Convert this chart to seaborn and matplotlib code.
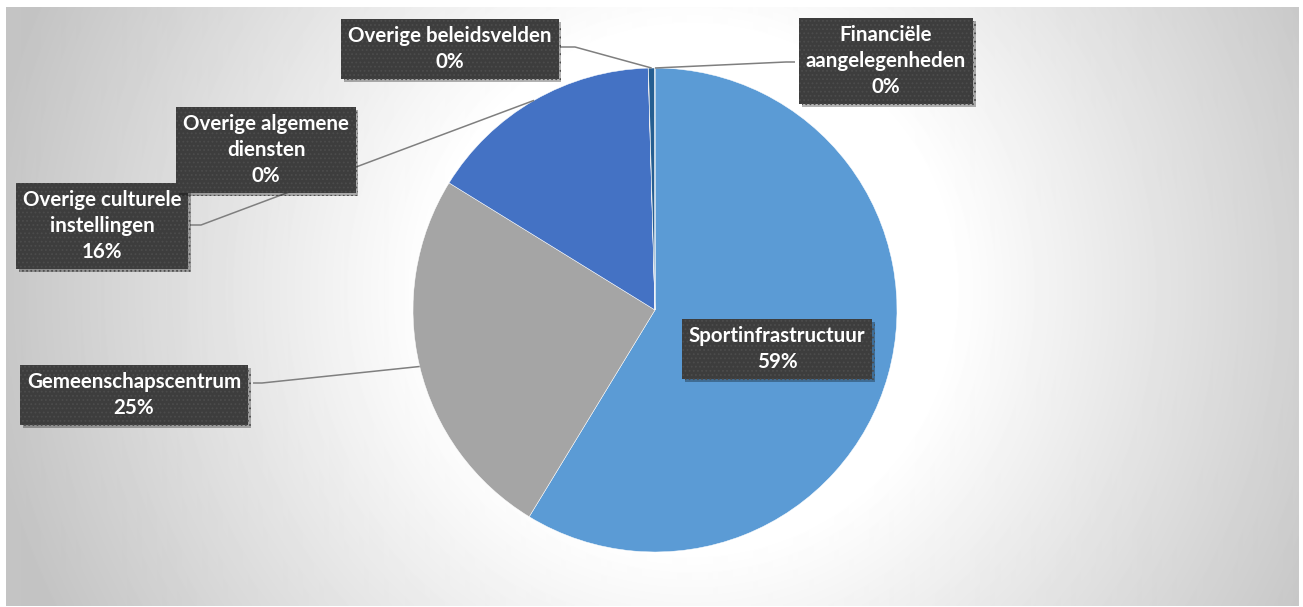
import numpy as np
import matplotlib
matplotlib.use("Agg")
import matplotlib.pyplot as plt
import seaborn as sns
from matplotlib import patheffects as pe

# ---------------- data ----------------
categories = [
    "Sportinfrastructuur",
    "Gemeenschapscentrum",
    "Overige culturele instellingen",
    "Overige algemene diensten",
    "Overige beleidsvelden",
    "Financiële aangelegenheden",
]
shares = [58.7, 25.1, 15.75, 0.02, 0.42, 0.01]
label_texts = [
    "Sportinfrastructuur",
    "Gemeenschapscentrum",
    "Overige culturele\ninstellingen",
    "Overige algemene\ndiensten",
    "Overige beleidsvelden",
    "Financiële\naangelegenheden",
]
colors = ["#5B9BD5", "#A5A5A5", "#4472C4", "#ED7D31", "#255E91", "#264478"]

# ---------------- style ----------------
sns.set_theme(style="white")
plt.rcParams["font.family"] = ["Lato", "DejaVu Sans"]
plt.rcParams["hatch.linewidth"] = 0.8

W, H = 1303, 607
fig = plt.figure(figsize=(W / 100, H / 100), dpi=100)
fig.patch.set_facecolor("white")

# radial gradient background (chart area)
bx0, by0, bx1, by1 = 6, 7, 1298, 606
bg = fig.add_axes([bx0 / W, 1 - by1 / H, (bx1 - bx0) / W, (by1 - by0) / H])
yy, xx = np.mgrid[by0:by1, bx0:bx1]
rr = np.hypot(xx - 690, (yy - 290) * 1.0)
val = 255 - 59 * np.clip((rr - 260) / 450, 0, 1)
bg.imshow(val, cmap="gray", vmin=0, vmax=255, aspect="auto", interpolation="bilinear")
bg.axis("off")

# pie axes spanning the whole figure, 1 data unit = R pixels
CX, CY, R = 655, 310, 242
ax = fig.add_axes([0, 0, 1, 1])
ax.patch.set_alpha(0)
wedges, _ = ax.pie(
    shares,
    colors=colors,
    startangle=90,
    counterclock=False,
    radius=1,
    wedgeprops=dict(edgecolor="white", linewidth=0.35),
)
ax.set_xlim(-CX / R, (W - CX) / R)
ax.set_ylim(-(H - CY) / R, CY / R)
ax.set_aspect("equal")
ax.axis("off")


def P(x, y):
    return ((x - CX) / R, (CY - y) / R)


# layout: text centre, leader start (box edge), elbow
layout = {
    "Sportinfrastructuur": dict(c=(777, 349), a=None, e=None),
    "Gemeenschapscentrum": dict(c=(134, 395), a=(253, 383), e=(262, 383)),
    "Overige culturele instellingen": dict(c=(102, 226), a=(190, 225), e=(201, 225)),
    "Overige algemene diensten": dict(c=(266, 150), a=None, e=None),
    "Overige beleidsvelden": dict(c=(450, 49), a=(560, 47), e=(575, 47)),
    "Financiële aangelegenheden": dict(c=(886, 61), a=(795, 62), e=(786, 62)),
}

total = sum(shares)
for w, cat, txt, v in zip(wedges, categories, label_texts, shares):
    L = layout[cat]
    pct = f"{round(v / total * 100):.0f}%"
    if L["a"] is not None:
        th = np.deg2rad((w.theta1 + w.theta2) / 2)
        edge = (np.cos(th), np.sin(th))
        pa, pe_ = P(*L["a"]), P(*L["e"])
        ax.plot([pa[0], pe_[0], edge[0]], [pa[1], pe_[1], edge[1]],
                color="#7F7F7F", lw=1.1, zorder=3, solid_capstyle="butt")
    t = ax.text(
        *P(*L["c"]),
        f"{txt}\n{pct}",
        ha="center", va="center", multialignment="center",
        color="white", fontsize=14.8, fontweight="bold", linespacing=1.38,
        zorder=5,
        bbox=dict(boxstyle="square,pad=0.33", facecolor="#3D3D3D",
                  edgecolor="#4C4C4C", linewidth=0, hatch="...."),
    )
    t.get_bbox_patch().set_path_effects(
        [pe.SimplePatchShadow(offset=(2, -2), shadow_rgbFace="black", alpha=0.3), pe.Normal()]
    )

fig.savefig("out.png", dpi=100, facecolor="white")
